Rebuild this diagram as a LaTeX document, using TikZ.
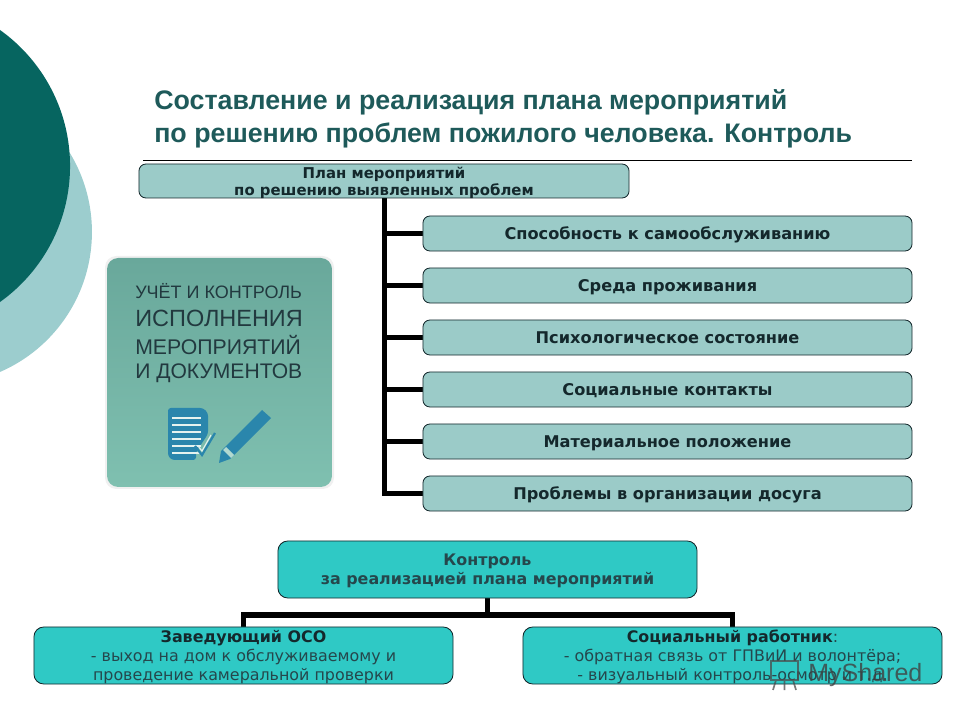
\documentclass[tikz,border=0pt]{standalone}
\usepackage{fontspec}
\setmainfont{DejaVu Sans}
\newfontfamily\titlefont{Liberation Sans}
\usetikzlibrary{calc,positioning}

\definecolor{darkteal}{HTML}{066560}
\definecolor{lightteal}{HTML}{9CCDCE}
\definecolor{titleteal}{HTML}{1E5A5A}
\definecolor{boxteal}{HTML}{9BCBC8}
\definecolor{brightteal}{HTML}{2FC9C5}
\definecolor{cardtop}{HTML}{69A89B}
\definecolor{cardlow}{HTML}{7FC0B0}
\definecolor{cardtext}{HTML}{22393F}
\definecolor{iconblue}{HTML}{2A86AC}
\definecolor{inktext}{HTML}{14282C}
\definecolor{softtext}{HTML}{25474C}

\tikzset{
  planbox/.style={draw=inktext,fill=boxteal,rounded corners=5pt,line width=0.6pt,align=center,inner sep=0pt,text=inktext,
    font=\bfseries\fontsize{11.5}{12.6}\selectfont,minimum width=12.225cm,minimum height=0.875cm,text depth=0pt},
  ctrlbox/.style={draw=inktext,fill=brightteal,rounded corners=7pt,line width=0.6pt,align=center,inner sep=0pt,text=softtext,
    font=\fontsize{11.3}{13.6}\selectfont,minimum width=10.475cm,minimum height=1.425cm,text depth=0pt},
  trunk/.style={line width=3.9pt,draw=black},
  cardline/.style={anchor=west,text=cardtext,inner sep=0pt}
}

\begin{document}
\begin{tikzpicture}[x=0.025cm,y=-0.025cm]
\useasboundingbox (0,0) rectangle (960,720);

% background circles
\begin{scope}
\clip (0,0) rectangle (960,720);
\fill[lightteal] (-60.5,232) circle (3.81cm);
\fill[darkteal] (-97,166) circle (4.175cm);
\end{scope}

% title
\node[anchor=west,inner sep=0pt,text=titleteal,align=left,font=\titlefont\bfseries\fontsize{19.05}{23.8}\selectfont] (title) at (154,119)
  {Составление и реализация плана мероприятий\\по решению проблем пожилого человека. Контроль};
\coordinate (ruleA) at (143,160);
\coordinate (ruleB) at (912,160);
\draw[black,line width=0.5pt] (ruleA) -- (ruleB);

% connectors go under the boxes
\coordinate (planfoot) at (384.5,198);
\foreach \y in {233.5,285.5,337.5,389.5,441.5,493.5}
  \draw[trunk] (planfoot) |- (423,\y);

% plan
\node[planbox,minimum width=12.25cm,minimum height=0.85cm,font=\bfseries\fontsize{10.6}{12}\selectfont] (plan) at (384,181)
  {План мероприятий\\по решению выявленных проблем};
\node[planbox] (care) at (667.5,233.5) {Способность к самообслуживанию};
\node[planbox] (home) at (667.5,285.5) {Среда проживания};
\node[planbox] (psych) at (667.5,337.5) {Психологическое состояние};
\node[planbox] (social) at (667.5,389.5) {Социальные контакты};
\node[planbox] (money) at (667.5,441.5) {Материальное положение};
\node[planbox] (leisure) at (667.5,493.5) {Проблемы в организации досуга};

% card on the left
\fill[black!6,rounded corners=8pt] (105,256) rectangle (334,489);
\shade[top color=cardtop,bottom color=cardlow,rounded corners=8pt] (107,258) rectangle (332,487);
\node[cardline,font=\titlefont\fontsize{12.8}{14}\selectfont] (cardA) at (135,291) {УЧЁТ И КОНТРОЛЬ};
\node[cardline,font=\titlefont\fontsize{16.7}{18}\selectfont] (cardB) at (135,318) {ИСПОЛНЕНИЯ};
\node[cardline,font=\titlefont\fontsize{15.1}{16}\selectfont] (cardC) at (135,345) {МЕРОПРИЯТИЙ};
\node[cardline,font=\titlefont\fontsize{15}{16}\selectfont] (cardD) at (135,373) {И ДОКУМЕНТОВ};

% icon
\fill[iconblue,rounded corners=2pt] (168,408) -- (203,408) -- (208,413) -- (208,434) -- (196,452) -- (196,460) -- (172,460) -- (168,456) -- cycle;
\foreach \y in {418,425,432,439,446,453}
  \draw[white!80!cardlow,line width=0.8pt] (172,\y) -- (201,\y);
\draw[iconblue,line width=1.6pt] (195,446) -- (202,455) -- (215,433);
\draw[white!80!cardlow,line width=0.8pt] (198,446) -- (202,451) -- (211,435);
\fill[iconblue] (219,463) -- (221,451) -- (262,410) -- (271,418) -- (230,459) -- cycle;
\fill[cardlow!60!white] (223,450) -- (226,447) -- (234,455) -- (231,458) -- cycle;

% control
\coordinate (fork) at (487.5,615);
\coordinate (forkL) at (243.5,640);
\coordinate (forkR) at (732.5,640);
\draw[line width=4.2pt] (487.5,590) -- (fork);
\draw[line width=4.2pt] (forkL) |- (fork) -| (forkR);

\node[ctrlbox,font=\bfseries\fontsize{11.3}{13.6}\selectfont] (ctrl) at (487.5,569.5) {Контроль\\за реализацией плана мероприятий};
\node[ctrlbox] (head) at (243.5,655.5) {\textbf{\textcolor{inktext}{Заведующий ОСО}}\\- выход на дом к обслуживаемому и\\проведение камеральной проверки};
\node[ctrlbox] (worker) at (732.5,655.5) {\textbf{\textcolor{inktext}{Социальный работник}}:\\- обратная связь от ГПВиИ и волонтёра;\\- визуальный контроль-осмотр и т.д.};

% watermark
\node[anchor=west,inner sep=0pt,text=black!75,opacity=0.8,font=\titlefont\fontsize{17.8}{20}\selectfont] (mark) at (808,675) {MyShared};
\draw[black!70,opacity=0.75,line width=1.2pt] (771,661) rectangle (798,680) (776,680) -- (773,690) (793,680) -- (796,690) (784.5,680) -- (784.5,690);
\end{tikzpicture}
\end{document}
